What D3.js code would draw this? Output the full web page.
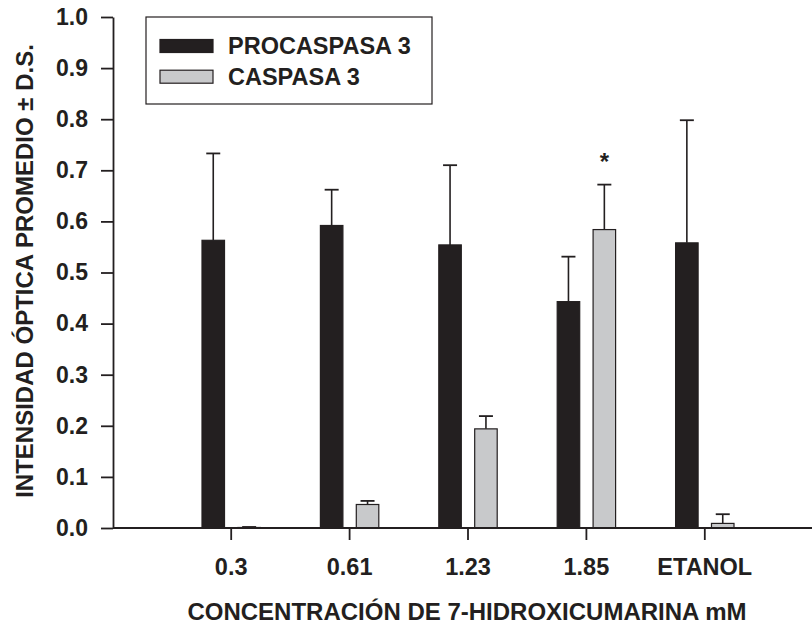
<!DOCTYPE html>
<html>
<head>
<meta charset="utf-8">
<script src="https://cdn.jsdelivr.net/npm/d3@7"></script>
<style>
    body { margin: 0; background: #fff; }
    text { font-family: "Liberation Sans", Arial, sans-serif; font-weight: bold; fill: #231f20; }
</style>
</head>
<body>
<svg id="chart" width="812" height="625"></svg>
<script>
var categories = ["0.3", "0.61", "1.23", "1.85", "ETANOL"]
var series = ["PROCASPASA 3", "CASPASA 3"]
var procaspasa = [0.563, 0.592, 0.554, 0.443, 0.558]
var procaspasaSD = [0.170, 0.070, 0.156, 0.088, 0.240]
var caspasa = [0.001, 0.046, 0.194, 0.584, 0.009]
var caspasaSD = [0.001, 0.007, 0.025, 0.088, 0.018]
var yTicks = [0, 0.1, 0.2, 0.3, 0.4, 0.5, 0.6, 0.7, 0.8, 0.9, 1.0]
var marked = ["1.85"]

var colors = { "PROCASPASA 3": "#231f20", "CASPASA 3": "#c8c9cb" }
var dark = "#231f20"

var svg = d3.select("#chart")

var axisX = 113
var y = d3.scaleLinear().domain([0, 1]).range([528, 17])
var x = d3.scaleBand().domain(categories).range([172, 764])
var x1 = d3.scaleBand().domain(series).range([-29.2, 29.2]).paddingInner(0.373)

// build rows
var rows = []
categories.forEach(function (c, i) {
    rows.push({ cat: c, s: series[0], v: procaspasa[i], sd: procaspasaSD[i] })
    rows.push({ cat: c, s: series[1], v: caspasa[i], sd: caspasaSD[i] })
})

function cx(d) { return x(d.cat) + x.bandwidth() / 2 + x1(d.s) + x1.bandwidth() / 2 }

// error bars (upward only)
svg.append("g").selectAll("line")
    .data(rows)
    .enter()
    .append("line")
    .attr("x1", cx).attr("x2", cx)
    .attr("y1", d => y(d.v)).attr("y2", d => y(d.v + d.sd))
    .attr("stroke", dark).attr("stroke-width", 1.6)

svg.append("g").selectAll("line")
    .data(rows)
    .enter()
    .append("line")
    .attr("x1", d => cx(d) - 7).attr("x2", d => cx(d) + 7)
    .attr("y1", d => y(d.v + d.sd)).attr("y2", d => y(d.v + d.sd))
    .attr("stroke", dark).attr("stroke-width", 1.8)

// bars
svg.append("g").selectAll("rect")
    .data(rows)
    .enter()
    .append("rect")
    .attr("x", d => x(d.cat) + x.bandwidth() / 2 + x1(d.s))
    .attr("y", d => y(d.v))
    .attr("width", x1.bandwidth())
    .attr("height", d => y(0) - y(d.v))
    .attr("fill", d => colors[d.s])
    .attr("stroke", dark)
    .attr("stroke-width", 1.2)

// significance mark
svg.append("g").selectAll("text")
    .data(rows.filter(d => d.s == "CASPASA 3" && marked.includes(d.cat)))
    .enter()
    .append("text")
    .attr("x", cx)
    .attr("y", d => y(d.v + d.sd) - 15)
    .attr("text-anchor", "middle")
    .style("font-size", "24px")
    .text("*")

// y axis
var yAxis = svg.append("g")
    .attr("transform", "translate(" + axisX + ",0)")
    .call(d3.axisLeft(y).tickValues(yTicks).tickFormat(d3.format(".1f")).tickSize(12).tickSizeOuter(0).tickPadding(13))
yAxis.select(".domain").attr("stroke", dark).attr("stroke-width", 1.8)
yAxis.selectAll(".tick line").attr("stroke", dark).attr("stroke-width", 1.8)
yAxis.selectAll(".tick text").style("font-size", "23px").style("font-family", null).attr("fill", dark)

// x axis
var xAxis = svg.append("g")
    .attr("transform", "translate(0," + y(0) + ")")
    .call(d3.axisBottom(x).tickSize(12).tickSizeOuter(0).tickPadding(18))
xAxis.select(".domain").remove()
xAxis.append("line")
    .attr("x1", axisX).attr("x2", 812)
    .attr("stroke", dark).attr("stroke-width", 1.8)
xAxis.selectAll(".tick line").attr("stroke", dark).attr("stroke-width", 1.8)
xAxis.selectAll(".tick text").style("font-size", "23.5px").style("font-family", null).attr("fill", dark)

// titles
svg.append("text")
    .attr("x", 467).attr("y", 620)
    .attr("text-anchor", "middle")
    .style("font-size", "24px")
    .text("CONCENTRACIÓN DE 7-HIDROXICUMARINA mM")

svg.append("text")
    .attr("transform", "translate(33,271) rotate(-90)")
    .attr("text-anchor", "middle")
    .style("font-size", "24px")
    .text("INTENSIDAD ÓPTICA PROMEDIO ± D.S.")

// legend
var legend = svg.append("g")
legend.append("rect")
    .attr("x", 146).attr("y", 17).attr("width", 286).attr("height", 87)
    .attr("fill", "none").attr("stroke", dark).attr("stroke-width", 1.2)

var li = legend.selectAll("g.item")
    .data(series)
    .enter()
    .append("g")
    .attr("transform", (d, i) => "translate(160," + (39.5 + i * 30.7) + ")")
li.append("rect")
    .attr("width", 53).attr("height", 13)
    .attr("fill", d => colors[d]).attr("stroke", dark).attr("stroke-width", 1.2)
li.append("text")
    .attr("x", 68).attr("y", 14.8)
    .style("font-size", "23.5px")
    .text(d => d)
</script>
</body>
</html>
